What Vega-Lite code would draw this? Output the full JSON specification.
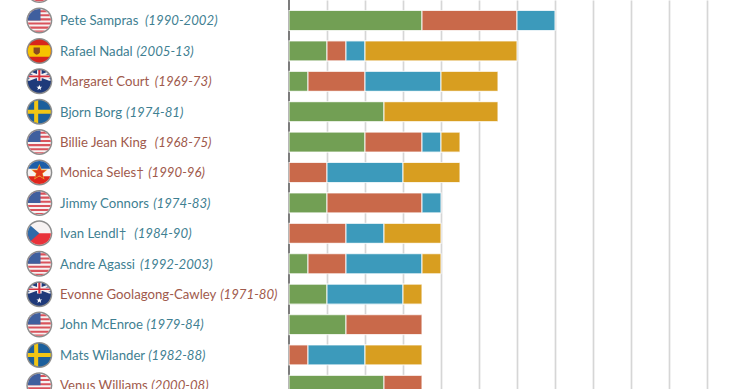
{
"$schema":"https://vega.github.io/schema/vega-lite/v6.json",
"width":740,"height":389,"autosize":"none","padding":0,
"background":"#ffffff",
"config":{"view":{"stroke":null}},
"datasets":{
"players":[
{"rank":0,"name":"Pete Sampras","years":"(1990-2002)","tour":"men"},
{"rank":1,"name":"Rafael Nadal","years":"(2005-13)","tour":"men"},
{"rank":2,"name":"Margaret Court","years":"(1969-73)","tour":"women"},
{"rank":3,"name":"Bjorn Borg","years":"(1974-81)","tour":"men"},
{"rank":4,"name":"Billie Jean King","years":"(1968-75)","tour":"women"},
{"rank":5,"name":"Monica Seles†","years":"(1990-96)","tour":"women"},
{"rank":6,"name":"Jimmy Connors","years":"(1974-83)","tour":"men"},
{"rank":7,"name":"Ivan Lendl†","years":"(1984-90)","tour":"men"},
{"rank":8,"name":"Andre Agassi","years":"(1992-2003)","tour":"men"},
{"rank":9,"name":"Evonne Goolagong-Cawley","years":"(1971-80)","tour":"women"},
{"rank":10,"name":"John McEnroe","years":"(1979-84)","tour":"men"},
{"rank":11,"name":"Mats Wilander","years":"(1982-88)","tour":"men"},
{"rank":12,"name":"Venus Williams","years":"(2000-08)","tour":"women"}
],
"flags":[
{"rank":-1,"flag":"US"},{"rank":0,"flag":"US"},{"rank":1,"flag":"ES"},{"rank":2,"flag":"AU"},{"rank":3,"flag":"SE"},{"rank":4,"flag":"US"},{"rank":5,"flag":"YU"},{"rank":6,"flag":"US"},{"rank":7,"flag":"CZ"},{"rank":8,"flag":"US"},{"rank":9,"flag":"AU"},{"rank":10,"flag":"US"},{"rank":11,"flag":"SE"},{"rank":12,"flag":"US"}
],
"flagdefs":[
{"flag":"US","parts":["discWhite","usStripes","usCanton"]},
{"flag":"ES","parts":["discRed","esBand","esCrest"]},
{"flag":"AU","parts":["discNavy","auWhite","auRed","auStar"]},
{"flag":"SE","parts":["discBlue","seCross"]},
{"flag":"YU","parts":["discWhite","yuBlue","yuRed","yuStarGold","yuStar"]},
{"flag":"CZ","parts":["discWhite","czRed","czBlue"]}
],
"medals":[
{"rank":0,"slam":"Wimbledon","ord":1,"n":7},{"rank":0,"slam":"US Open","ord":2,"n":5},{"rank":0,"slam":"Australian Open","ord":3,"n":2},
{"rank":1,"slam":"Wimbledon","ord":1,"n":2},{"rank":1,"slam":"US Open","ord":2,"n":1},{"rank":1,"slam":"Australian Open","ord":3,"n":1},{"rank":1,"slam":"French Open","ord":4,"n":8},
{"rank":2,"slam":"Wimbledon","ord":1,"n":1},{"rank":2,"slam":"US Open","ord":2,"n":3},{"rank":2,"slam":"Australian Open","ord":3,"n":4},{"rank":2,"slam":"French Open","ord":4,"n":3},
{"rank":3,"slam":"Wimbledon","ord":1,"n":5},{"rank":3,"slam":"French Open","ord":4,"n":6},
{"rank":4,"slam":"Wimbledon","ord":1,"n":4},{"rank":4,"slam":"US Open","ord":2,"n":3},{"rank":4,"slam":"Australian Open","ord":3,"n":1},{"rank":4,"slam":"French Open","ord":4,"n":1},
{"rank":5,"slam":"US Open","ord":2,"n":2},{"rank":5,"slam":"Australian Open","ord":3,"n":4},{"rank":5,"slam":"French Open","ord":4,"n":3},
{"rank":6,"slam":"Wimbledon","ord":1,"n":2},{"rank":6,"slam":"US Open","ord":2,"n":5},{"rank":6,"slam":"Australian Open","ord":3,"n":1},
{"rank":7,"slam":"US Open","ord":2,"n":3},{"rank":7,"slam":"Australian Open","ord":3,"n":2},{"rank":7,"slam":"French Open","ord":4,"n":3},
{"rank":8,"slam":"Wimbledon","ord":1,"n":1},{"rank":8,"slam":"US Open","ord":2,"n":2},{"rank":8,"slam":"Australian Open","ord":3,"n":4},{"rank":8,"slam":"French Open","ord":4,"n":1},
{"rank":9,"slam":"Wimbledon","ord":1,"n":2},{"rank":9,"slam":"Australian Open","ord":3,"n":4},{"rank":9,"slam":"French Open","ord":4,"n":1},
{"rank":10,"slam":"Wimbledon","ord":1,"n":3},{"rank":10,"slam":"US Open","ord":2,"n":4},
{"rank":11,"slam":"US Open","ord":2,"n":1},{"rank":11,"slam":"Australian Open","ord":3,"n":3},{"rank":11,"slam":"French Open","ord":4,"n":3},
{"rank":12,"slam":"Wimbledon","ord":1,"n":5},{"rank":12,"slam":"US Open","ord":2,"n":2}
]
},
"resolve":{"scale":{"color":"independent","shape":"independent"}},
"encoding":{"y":{"field":"rank","type":"quantitative","scale":{"domain":[-0.674,12.12],"reverse":true,"nice":false,"zero":false,"padding":0},"axis":null}},
"layer":[
{"data":{"name":"players"},
 "mark":{"type":"rule","color":"#7d7d7d","strokeWidth":1.5},
 "encoding":{"y":{"value":0},"y2":{"value":389},"x":{"datum":0,"type":"quantitative",
   "scale":{"domain":[-15.21,23.737],"nice":false,"zero":false},
   "axis":{"values":[2,4,6,8,10,12,14,16,18,20,22],"grid":true,"gridColor":"#d6d6d6","gridWidth":1.7,"domain":false,"ticks":false,"labels":false,"title":null}}}},
{"data":{"name":"medals"},
 "mark":{"type":"bar","orient":"horizontal","size":20,"stroke":"#ffffff","strokeOpacity":0.75,"strokeWidth":1.2},
 "encoding":{
  "x":{"field":"n","type":"quantitative","stack":"zero"},
  "order":{"field":"ord","type":"quantitative"},
  "color":{"field":"slam","type":"nominal","legend":null,"scale":{"domain":["Wimbledon","US Open","Australian Open","French Open"],"range":["#729f54","#c9694a","#3c9abb","#d89e20"]}}}},
{"data":{"name":"flags"},
 "mark":{"type":"point","filled":true,"opacity":1,"size":676,"color":"#8c8c8c","shape":"M-1,0A1,1,0,1,1,1,0A1,1,0,1,1,-1,0Z"},
 "encoding":{"x":{"datum":-13.14,"type":"quantitative"}}},
{"data":{"name":"flags"},
 "transform":[{"lookup":"flag","from":{"data":{"name":"flagdefs"},"key":"flag","fields":["parts"]}},{"flatten":["parts"]}],
 "mark":{"type":"point","filled":true,"opacity":1,"size":530},
 "encoding":{"x":{"datum":-13.14,"type":"quantitative"},
  "color":{"field":"parts","type":"nominal","legend":null,"scale":{
    "domain":["discWhite","usStripes","usCanton","discRed","esBand","esCrest","discNavy","auWhite","auRed","auStar","discBlue","seCross","yuBlue","yuRed","yuStarGold","yuStar","czRed","czBlue"],
    "range":["#f6f2f2","#d9535c","#3f5f9e","#d8261c","#f5c400","#8a4a20","#1f3a7a","#f2f0f2","#d8303c","#ffffff","#1c5f9c","#f2c514","#1e5fa8","#e0261c","#f0b030","#e0361c","#e8323a","#2f6aa8"]}},
  "shape":{"field":"parts","type":"nominal","legend":null,"scale":{
    "domain":["discWhite","usStripes","usCanton","discRed","esBand","esCrest","discNavy","auWhite","auRed","auStar","discBlue","seCross","yuBlue","yuRed","yuStarGold","yuStar","czRed","czBlue"],
    "range":[
    "M-1,0A1,1,0,1,1,1,0A1,1,0,1,1,-1,0Z",
    "M-.436,-.9L.436,-.9L.694,-.72L-.694,-.72ZM-.835,-.55L.835,-.55L.929,-.37L-.929,-.37ZM-.982,-.19L.982,-.19L1,-.01L-1,-.01ZM-.985,.17L.985,.17L.937,.35L-.937,.35ZM-.848,.53L.848,.53L.704,.71L-.704,.71ZM-.493,.87L.493,.87L.243,.97L-.243,.97Z",
    "M-1,0A1,1,0,0,1,.1,-.995L.1,0Z",
    "M-1,0A1,1,0,1,1,1,0A1,1,0,1,1,-1,0Z",
    "M-.866,-.5L.866,-.5A1,1,0,0,1,.866,.5L-.866,.5A1,1,0,0,1,-.866,-.5Z",
    "M-.5,-.3L.05,-.3L.05,.15Q-.22,.5,-.5,.15Z",
    "M-1,0A1,1,0,1,1,1,0A1,1,0,1,1,-1,0Z",
    "M-.75,-.66L-.62,-.78L.95,-.2L.98,-.05L.85,-.05ZM-.85,-.05L-.98,-.05L-.95,-.2L.62,-.78L.75,-.66ZM-.82,-.57L.82,-.57L.96,-.27L-.96,-.27ZM-.2,-.97L.2,-.97L.2,-.05L-.2,-.05Z",
    "M-.866,-.5L.866,-.5L.93,-.35L-.93,-.35ZM-.09,-.99L.09,-.99L.09,-.05L-.09,-.05Z",
    "M0,.3L.07,.47L.25,.47L.11,.58L.16,.76L0,.65L-.16,.76L-.11,.58L-.25,.47L-.07,.47Z",
    "M-1,0A1,1,0,1,1,1,0A1,1,0,1,1,-1,0Z",
    "M-.985,-.17L.985,-.17L1,0L.985,.17L-.985,.17L-1,0ZM-.45,-.89L-.1,-.995L-.1,.995L-.45,.89Z",
    "M-.944,-.33A1,1,0,0,1,.944,-.33Z",
    "M.944,.33A1,1,0,0,1,-.944,.33Z",
    "M0,-.75L.2,-.27L.72,-.27L.3,.08L.45,.6L0,.32L-.45,.6L-.3,.08L-.72,-.27L-.2,-.27Z",
    "M0,-.6L.16,-.2L.6,-.2L.25,.07L.37,.5L0,.25L-.37,.5L-.25,.07L-.6,-.2L-.16,-.2Z",
    "M1,0A1,1,0,0,1,-1,0Z",
    "M-.75,-.66L0,0L-.75,.66A1,1,0,0,1,-.75,-.66Z"
    ]}}}},
{"data":{"name":"players"},
 "mark":{"type":"text","align":"left","baseline":"middle","font":"Lato","fontSize":13.2,"dy":0.8},
 "encoding":{"x":{"datum":-12.05,"type":"quantitative"},
  "text":{"field":"name"},
  "color":{"field":"tour","type":"nominal","legend":null,"scale":{"domain":["men","women"],"range":["#3f7f92","#a05a4c"]}}}},
{"data":{"name":"players"},
 "transform":[{"calculate":"-12.05+(length(datum.name)*7.2-length(replace(datum.name,/[^jtfr ]/g,''))*1.5-length(replace(datum.name,/[^il]/g,''))*3.5+length(replace(datum.name,/[^mwMW]/g,''))*3)/19","as":"yearsStart"}],
 "mark":{"type":"text","align":"left","baseline":"middle","font":"Lato","fontSize":13.2,"fontStyle":"italic","dy":0.8},
 "encoding":{"x":{"field":"yearsStart","type":"quantitative"},
  "text":{"field":"years"},
  "color":{"field":"tour","type":"nominal","legend":null,"scale":{"domain":["men","women"],"range":["#3f7f92","#a05a4c"]}}}}
]
}
